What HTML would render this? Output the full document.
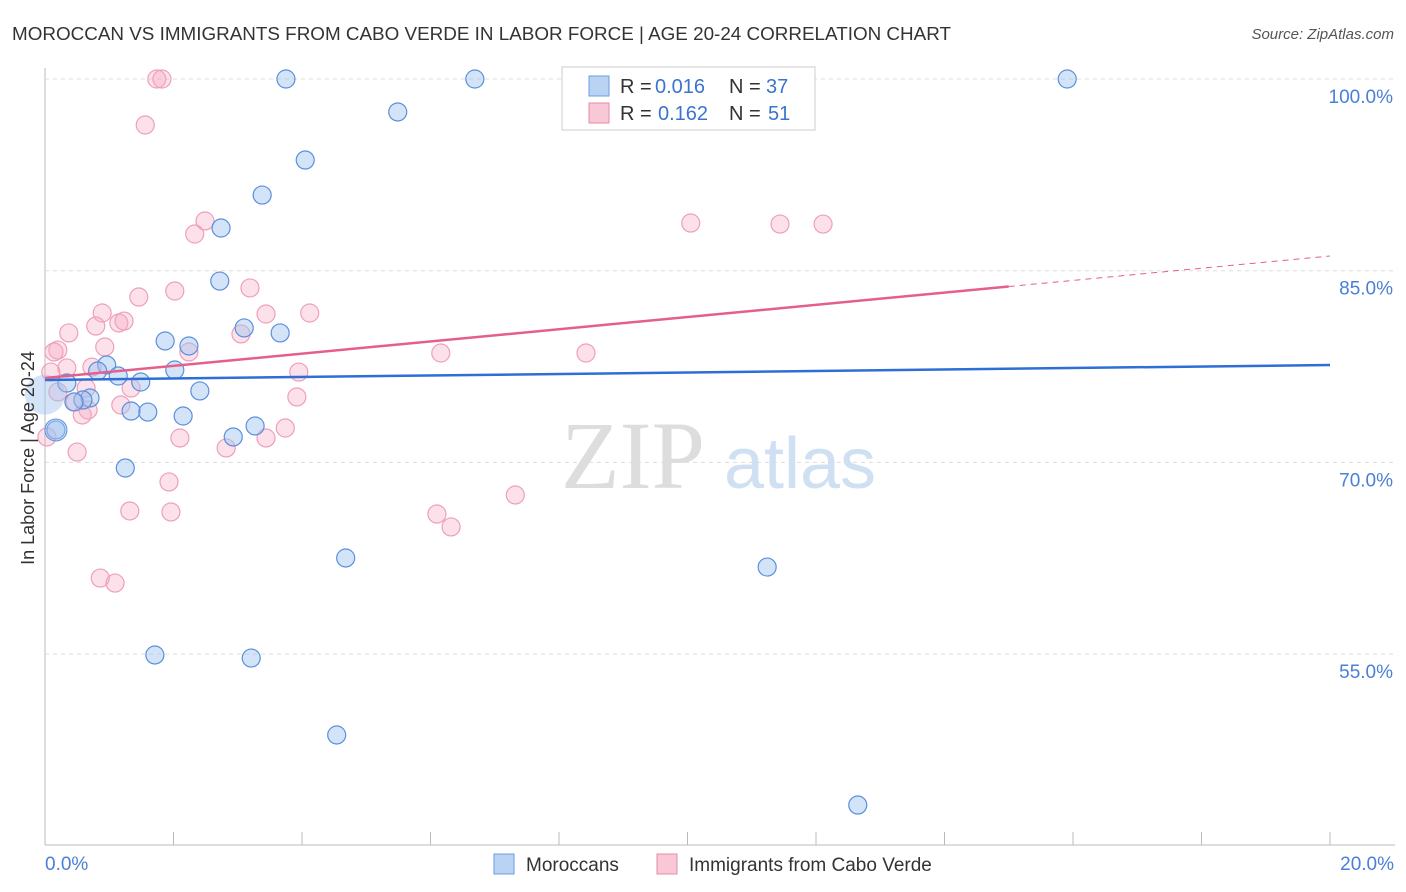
<!DOCTYPE html>
<html><head><meta charset="utf-8"><style>
body{margin:0;background:#fff;font-family:"Liberation Sans",sans-serif;}
#wrap{position:relative;width:1406px;height:892px;overflow:hidden}
</style></head><body><div id="wrap">
<svg id="svg" width="1406" height="892" xmlns="http://www.w3.org/2000/svg">
<text x="12" y="40" font-size="18" fill="#333" textLength="939" lengthAdjust="spacingAndGlyphs">MOROCCAN VS IMMIGRANTS FROM CABO VERDE IN LABOR FORCE | AGE 20-24 CORRELATION CHART</text>
<text x="1394" y="39" font-size="15" fill="#555" font-style="italic" text-anchor="end">Source: ZipAtlas.com</text>
<text x="633" y="488" font-size="96" fill="#ddd" font-family="Liberation Serif" text-anchor="middle">ZIP</text>
<text x="800" y="488" font-size="72" fill="#cfe0f3" text-anchor="middle">atlas</text>
<g id="grid"></g><g id="pts"></g><g id="lines"></g>
<text transform="translate(34,458) rotate(-90)" font-size="18" fill="#333" text-anchor="middle">In Labor Force | Age 20-24</text>
<text x="45" y="870" font-size="19" fill="#4a7fd6">0.0%</text>
<text x="1394" y="870" font-size="19" fill="#4a7fd6" text-anchor="end">20.0%</text>
<g>
<rect x="562" y="67" width="253" height="63" fill="#fff" stroke="#ccc"/>
<rect x="589" y="76" width="20" height="20" fill="#b9d3f3" stroke="#6a9be0"/>
<rect x="589" y="103" width="20" height="20" fill="#f9c8d6" stroke="#e88aa8"/>
<text x="620" y="93" font-size="20" fill="#333">R =</text><text x="655" y="93" font-size="20" fill="#3a74d0">0.016</text>
<text x="729" y="93" font-size="20" fill="#333">N =</text><text x="766" y="93" font-size="20" fill="#3a74d0">37</text>
<text x="620" y="120" font-size="20" fill="#333">R =</text><text x="658" y="120" font-size="20" fill="#3a74d0">0.162</text>
<text x="729" y="120" font-size="20" fill="#333">N =</text><text x="768" y="120" font-size="20" fill="#3a74d0">51</text>
</g>
<g>
<rect x="494" y="854" width="20" height="20" fill="#b9d3f3" stroke="#6a9be0"/>
<text x="526" y="871" font-size="19" fill="#333">Moroccans</text>
<rect x="657" y="854" width="20" height="20" fill="#f9c8d6" stroke="#e88aa8"/>
<text x="689" y="871" font-size="19" fill="#333">Immigrants from Cabo Verde</text>
</g>
</svg></div>
<script>
const yTicks=[100,85,70,55];
const blueX=[3.75,6.69,15.91,5.49,4.05,3.38,2.74,2.72,3.10,3.66,1.87,2.24,0.96,0.82,1.14,2.02,0.34,1.49,2.41,0.70,0.59,0.45,1.34,1.60,2.15,0.17,3.27,2.93,1.25,4.68,11.24,1.71,3.21,4.54,12.65];
const blueY=[100,100,100,97.42,93.66,90.92,88.34,84.19,80.52,80.13,79.50,79.11,77.62,77.15,76.76,77.23,76.21,76.29,75.59,75.04,74.88,74.73,74.02,73.94,73.63,72.54,72.85,71.99,69.56,62.52,61.81,54.93,54.69,48.67,43.19];
const pinkX=[1.74,1.82,1.56,2.49,2.33,10.05,11.44,12.11,1.46,2.02,3.19,0.89,4.12,3.44,0.79,1.15,1.23,0.37,3.05,0.20,0.14,0.93,2.24,6.16,8.42,0.34,0.73,3.95,0.09,1.34,0.64,0.20,3.92,0.47,1.18,0.67,0.58,2.10,3.44,3.74,0.03,2.82,0.50,1.93,7.32,1.32,1.96,6.10,6.32,0.86,1.09];
const pinkY=[100,100,96.40,88.89,87.87,88.73,88.65,88.65,82.94,83.41,83.65,81.69,81.69,81.61,80.67,80.91,81.06,80.13,80.05,78.79,78.64,79.03,78.64,78.56,78.56,77.39,77.46,77.07,77.07,75.82,75.82,75.51,75.12,74.73,74.49,74.10,73.71,71.91,71.91,72.69,71.99,71.13,70.81,68.47,67.45,66.20,66.12,65.96,64.95,60.95,60.56];
const blueTrend=[76.45,77.62];
const pinkTrend=[76.60,86.15];
const sx=v=>45+v*64.25, sy=v=>79+(100-v)*12.78;
const NS='http://www.w3.org/2000/svg';
function mk(t,a,p){const e=document.createElementNS(NS,t);for(const k in a)e.setAttribute(k,a[k]);p.appendChild(e);return e;}
const g=document.getElementById('grid');
let ax=mk('line',{x1:45,y1:68,x2:45,y2:845,stroke:'#bbb'},g);


let bx=mk('line',{x1:45,y1:845,x2:1395,y2:845,stroke:'#bbb'},g);


for(let i=1;i<=10;i++){const l=mk('line',{x1:45+i*128.5,y1:832,x2:45+i*128.5,y2:845,stroke:'#bbb'},g);

}
yTicks.forEach(v=>{const l=mk('line',{x1:45,y1:sy(v),x2:1395,y2:sy(v),stroke:'#ddd','stroke-dasharray':'4,4'},g);


const t=mk('text',{x:1393,y:sy(v)+24,'font-size':19,fill:'#4a7fd6','text-anchor':'end'},g);t.textContent=v.toFixed(1)+'%';

});
const p=document.getElementById('pts');
pinkX.forEach((x,i)=>{const c=mk('circle',{cx:sx(x),cy:sy(pinkY[i]),r:9,fill:'rgba(246,170,195,0.35)',stroke:'#eea0b8','stroke-width':1.2},p);

});
blueX.forEach((x,i)=>{const c=mk('circle',{cx:sx(x),cy:sy(blueY[i]),r:9,fill:'rgba(160,195,240,0.45)',stroke:'#5b8fdc','stroke-width':1.2},p);

});
let big=mk('circle',{cx:sx(0),cy:sy(75.3),r:20,fill:'rgba(160,195,240,0.45)',stroke:'none'},p);


let big2=mk('circle',{cx:sx(0.17),cy:sy(72.54),r:11,fill:'rgba(160,195,240,0.45)',stroke:'#5b8fdc'},p);


const L=document.getElementById('lines');
let bl=mk('line',{x1:sx(0),y1:sy(blueTrend[0]),x2:sx(20),y2:sy(blueTrend[1]),stroke:'#2d6fd6','stroke-width':2.5},L);


const xm=15.0, ym=pinkTrend[0]+(pinkTrend[1]-pinkTrend[0])*xm/20;
let pl=mk('line',{x1:sx(0),y1:sy(pinkTrend[0]),x2:sx(xm),y2:sy(ym),stroke:'#e4608a','stroke-width':2.5},L);


let pd=mk('line',{x1:sx(xm),y1:sy(ym),x2:sx(20),y2:sy(pinkTrend[1]),stroke:'#e4608a','stroke-width':1,'stroke-dasharray':'6,5'},L);


</script></body></html>
